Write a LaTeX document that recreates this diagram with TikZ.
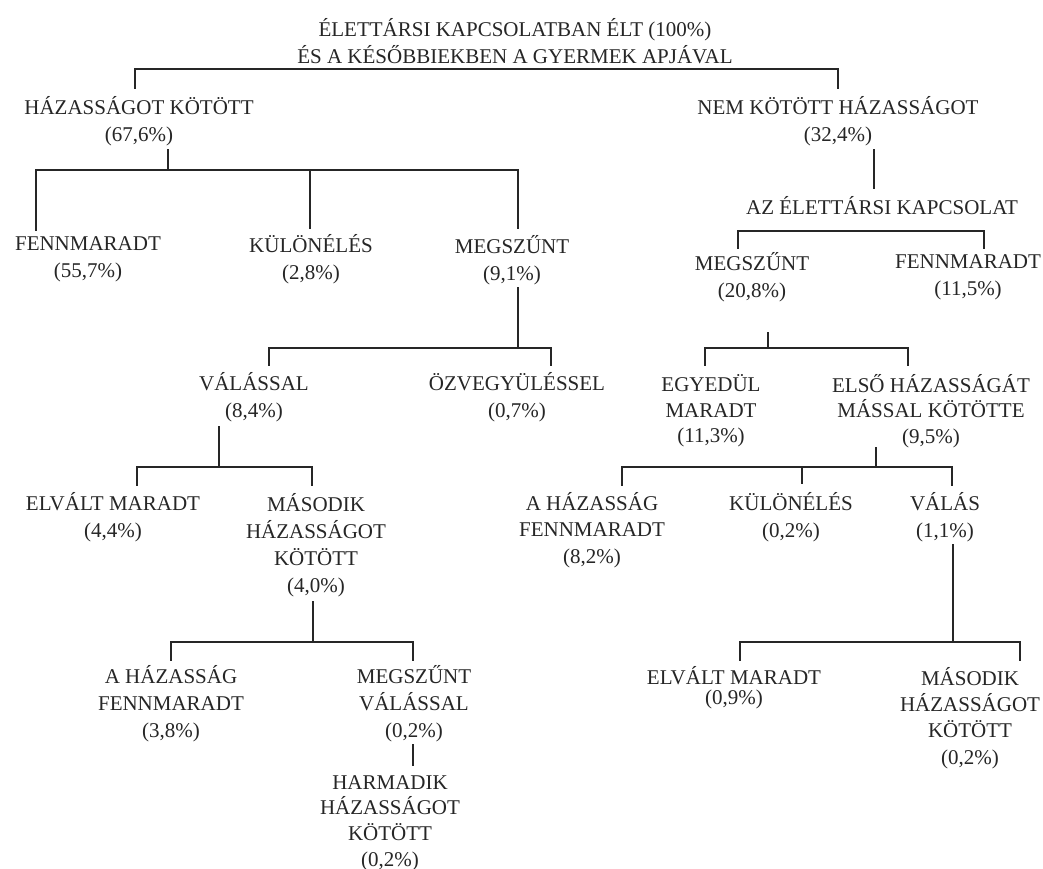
\documentclass[tikz,border=0pt]{standalone}
\usepackage{fontspec}
\setmainfont{Liberation Serif}
\definecolor{ink}{RGB}{38,38,38}
\tikzset{
  lbl/.style={align=center, inner sep=0pt, text=ink, yshift=-1.5pt, font=\fontsize{21}{27}\selectfont},
  conn/.style={draw=ink, line width=1.3pt, line cap=rect}
}
\begin{document}
\begin{tikzpicture}[x=1pt,y=-1pt]
\useasboundingbox[fill=white] (0,0) rectangle (1043,869);

% nodes
\node[lbl] (title) at (515,40) {ÉLETTÁRSI KAPCSOLATBAN ÉLT (100\%)\\ÉS A KÉSŐBBIEKBEN A GYERMEK APJÁVAL};
\node[lbl] (hk) at (139,119.5) {HÁZASSÁGOT KÖTÖTT\\(67,6\%)};
\node[lbl] (nk) at (838,119.5) {NEM KÖTÖTT HÁZASSÁGOT\\(32,4\%)};
\node[lbl] (fenn1) at (88,258) {FENNMARADT\\(55,7\%)};
\node[lbl] (kul1) at (311,258) {KÜLÖNÉLÉS\\(2,8\%)};
\node[lbl] (meg1) at (512,258.5) {MEGSZŰNT\\(9,1\%)};
\node[lbl] (val1) at (254,396) {VÁLÁSSAL\\(8,4\%)};
\node[lbl] (ozv) at (517,396) {ÖZVEGYÜLÉSSEL\\(0,7\%)};
\node[lbl] (elv1) at (113,516) {ELVÁLT MARADT\\(4,4\%)};
\node[lbl] (mas1) at (316,543.5) {MÁSODIK\\HÁZASSÁGOT\\KÖTÖTT\\(4,0\%)};
\node[lbl] (haz1) at (171,702.5) {A HÁZASSÁG\\FENNMARADT\\(3,8\%)};
\node[lbl] (megv) at (414,702.5) {MEGSZŰNT\\VÁLÁSSAL\\(0,2\%)};
\node[lbl, font=\fontsize{21}{25.7}\selectfont] (harm) at (390,821.5) {HARMADIK\\HÁZASSÁGOT\\KÖTÖTT\\(0,2\%)};
\node[lbl] (azel) at (882,204) {AZ ÉLETTÁRSI KAPCSOLAT};
\node[lbl] (meg2) at (752,276) {MEGSZŰNT\\(20,8\%)};
\node[lbl] (fenn2) at (968,276) {FENNMARADT\\(11,5\%)};
\node[lbl, font=\fontsize{21}{25.5}\selectfont] (egy) at (711,409.5) {EGYEDÜL\\MARADT\\(11,3\%)};
\node[lbl, font=\fontsize{21}{25.5}\selectfont] (elso) at (931,409.5) {ELSŐ HÁZASSÁGÁT\\MÁSSAL KÖTÖTTE\\(9,5\%)};
\node[lbl, font=\fontsize{21}{26.5}\selectfont] (haz2) at (592,528.5) {A HÁZASSÁG\\FENNMARADT\\(8,2\%)};
\node[lbl] (kul2) at (791,516) {KÜLÖNÉLÉS\\(0,2\%)};
\node[lbl] (valas) at (945,516) {VÁLÁS\\(1,1\%)};
\node[lbl, font=\fontsize{21}{20}\selectfont] (elv2) at (734,686.5) {ELVÁLT MARADT\\(0,9\%)};
\node[lbl, font=\fontsize{21}{26.3}\selectfont] (mas2) at (970,716.5) {MÁSODIK\\HÁZASSÁGOT\\KÖTÖTT\\(0,2\%)};

% named connector points
\coordinate (tL) at (135,88);  \coordinate (tR) at (838,88);  \coordinate (tBar) at (0,69);
\coordinate (hkS) at (168,150); \coordinate (hkJ) at (168,170);
\coordinate (f1T) at (36,230);  \coordinate (k1T) at (310,228); \coordinate (m1T) at (518,228);
\coordinate (m1S) at (518,288); \coordinate (m1J) at (518,348);
\coordinate (v1T) at (269,365); \coordinate (ozT) at (551,365);
\coordinate (v1S) at (219,427); \coordinate (v1J) at (219,467);
\coordinate (e1T) at (137,485); \coordinate (ms1T) at (312,485);
\coordinate (ms1S) at (313,602); \coordinate (ms1J) at (313,642);
\coordinate (h1T) at (171,660); \coordinate (mvT) at (413,660);
\coordinate (mvS) at (413,745); \coordinate (hmT) at (413,765);
\coordinate (nkS) at (874,150); \coordinate (nkE) at (874,188);
\coordinate (m2T) at (738,248); \coordinate (f2T) at (984,248); \coordinate (azBar) at (0,231);
\coordinate (m2S) at (768,333); \coordinate (m2J) at (768,348);
\coordinate (egT) at (705,365); \coordinate (elT) at (908,365);
\coordinate (elS) at (876,448); \coordinate (elJ) at (876,467);
\coordinate (h2T) at (622,485); \coordinate (k2T) at (802,483); \coordinate (vaT) at (952,485);
\coordinate (vaS) at (953,545); \coordinate (vaJ) at (953,642);
\coordinate (e2T) at (740,660); \coordinate (ms2T) at (1020,660);

% connectors
\draw[conn] (tL) -- (tL |- tBar) -- (tR |- tBar) -- (tR);

\draw[conn] (hkS) -- (hkJ);
\draw[conn] (f1T) -- (f1T |- hkJ) -- (m1T |- hkJ) -- (m1T);
\draw[conn] (k1T |- hkJ) -- (k1T);

\draw[conn] (m1S) -- (m1J);
\draw[conn] (v1T) -- (v1T |- m1J) -- (ozT |- m1J) -- (ozT);

\draw[conn] (v1S) -- (v1J);
\draw[conn] (e1T) -- (e1T |- v1J) -- (ms1T |- v1J) -- (ms1T);

\draw[conn] (ms1S) -- (ms1J);
\draw[conn] (h1T) -- (h1T |- ms1J) -- (mvT |- ms1J) -- (mvT);

\draw[conn] (mvS) -- (hmT);

\draw[conn] (nkS) -- (nkE);
\draw[conn] (m2T) -- (m2T |- azBar) -- (f2T |- azBar) -- (f2T);

\draw[conn, line width=2pt] (m2S) -- (m2J);
\draw[conn] (egT) -- (egT |- m2J) -- (elT |- m2J) -- (elT);

\draw[conn] (elS) -- (elJ);
\draw[conn] (h2T) -- (h2T |- elJ) -- (vaT |- elJ) -- (vaT);
\draw[conn] (k2T |- elJ) -- (k2T);

\draw[conn] (vaS) -- (vaJ);
\draw[conn] (e2T) -- (e2T |- vaJ) -- (ms2T |- vaJ) -- (ms2T);
\end{tikzpicture}
\end{document}
